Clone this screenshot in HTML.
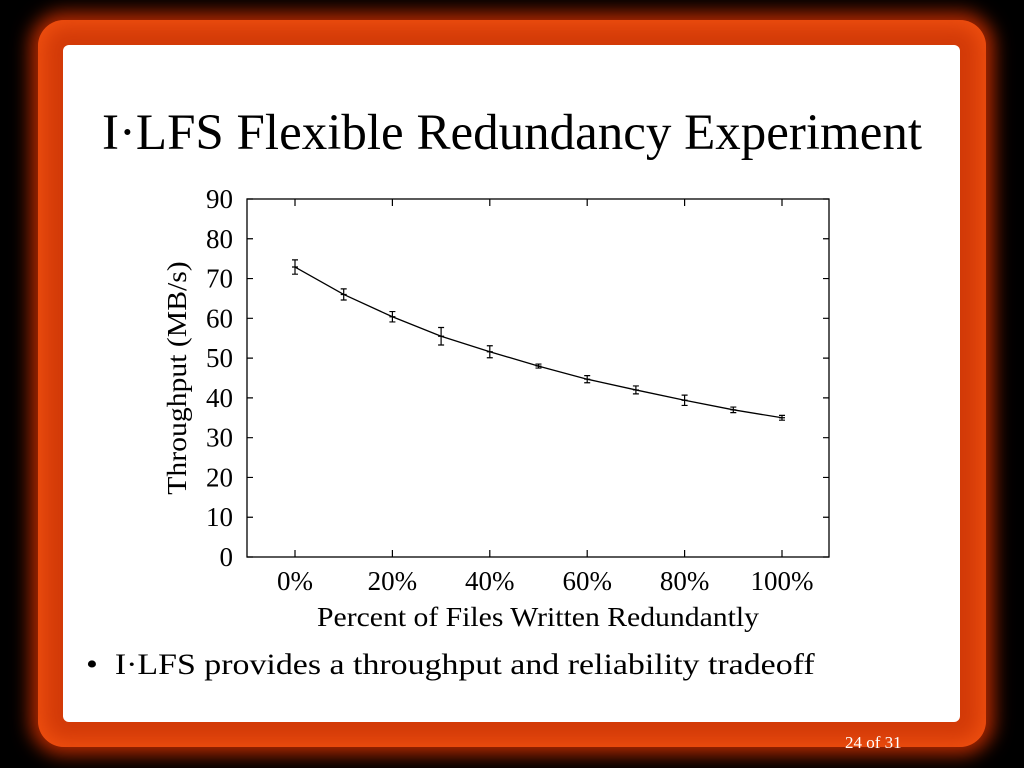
<!DOCTYPE html>
<html><head><meta charset="utf-8"><style>
body{margin:0;width:1024px;height:768px;background:#000;overflow:hidden;font-family:"Liberation Serif",serif}
#glow{position:absolute;left:38px;top:20px;width:948px;height:727px;border-radius:26px;background:#d23a08;box-shadow:0 0 18px 8px #b02800, inset 0 0 20px 6px #f05010}
#card{position:absolute;left:63px;top:45px;width:897px;height:677px;background:#fff;border-radius:6px}
#title{position:absolute;left:0;width:1024px;top:104px;text-align:center;font-size:51px;color:#000}
#bullet{position:absolute;left:86px;top:648px;font-size:30px;color:#000;transform:scaleX(1.13);transform-origin:0 0;white-space:nowrap}
#foot{position:absolute;left:845px;top:733px;font-size:17px;color:#fff}
</style></head><body>
<div id="glow"></div>
<div id="card"></div>
<div id="title">I·LFS Flexible Redundancy Experiment</div>
<svg id="chart" width="1024" height="768" style="position:absolute;left:0;top:0" font-family="Liberation Serif, serif"></svg>
<div id="bullet">•&nbsp;&nbsp;I·LFS provides a throughput and reliability tradeoff</div>
<div id="foot">24 of 31</div>
<script>
const categories=[0,10,20,30,40,50,60,70,80,90,100];
const throughput=[72.9,66,60.4,55.5,51.6,48,44.7,42,39.4,37,35];
const errors=[1.8,1.4,1.3,2.2,1.5,0.5,0.9,1,1.3,0.7,0.6];
const yTicks=[0,10,20,30,40,50,60,70,80,90];
const xTicks=[0,20,40,60,80,100];
const xTickLabels=["0%","20%","40%","60%","80%","100%"];
const L=247,R=829,T=199,B=557;
const x=v=>295+(v/100)*(782-295);
const y=v=>B-(v/90)*(B-T);
const svg=document.getElementById('chart');
const NS='http://www.w3.org/2000/svg';
function mk(t,a){const e=document.createElementNS(NS,t);for(const k in a)e.setAttribute(k,a[k]);svg.appendChild(e);return e;}
let e=mk('rect',{x:L,y:T,width:R-L,height:B-T,fill:'none',stroke:'#000','stroke-width':1.3});


yTicks.forEach(v=>{
  const t=mk('path',{d:`M${L} ${y(v)}h6M${R} ${y(v)}h-6`,stroke:'#000','stroke-width':1.2});
  
  
  const l=mk('text',{x:L-14,y:y(v)+9,'text-anchor':'end','font-size':27});
  l.textContent=v;
  
  
});
xTicks.forEach((v,i)=>{
  const t=mk('path',{d:`M${x(v)} ${B}v-7M${x(v)} ${T}v7`,stroke:'#000','stroke-width':1.2});
  
  
  const l=mk('text',{x:x(v),y:B+33,'text-anchor':'middle','font-size':27});
  l.textContent=xTickLabels[i];
  
  
});
const line=mk('polyline',{points:categories.map((c,i)=>x(c)+','+y(throughput[i])).join(' '),fill:'none',stroke:'#000','stroke-width':1.3});


categories.forEach((c,i)=>{
  const cx=x(c),y1=y(throughput[i]+errors[i]),y2=y(throughput[i]-errors[i]);
  const eb=mk('path',{d:`M${cx} ${y1}V${y2}M${cx-3} ${y1}h6M${cx-3} ${y2}h6M${cx-3} ${y(throughput[i])}h6`,stroke:'#000','stroke-width':1.2,fill:'none'});
  
  
});
let yt=mk('text',{x:0,y:0,'text-anchor':'middle','font-size':27,transform:`translate(186 ${(T+B)/2}) rotate(-90) scale(1.1 1)`});
yt.textContent='Throughput (MB/s)';


let xt=mk('text',{x:0,y:0,'text-anchor':'middle','font-size':27,transform:'translate(538 626) scale(1.1 1)'});
xt.textContent='Percent of Files Written Redundantly';


</script>
</body></html>
